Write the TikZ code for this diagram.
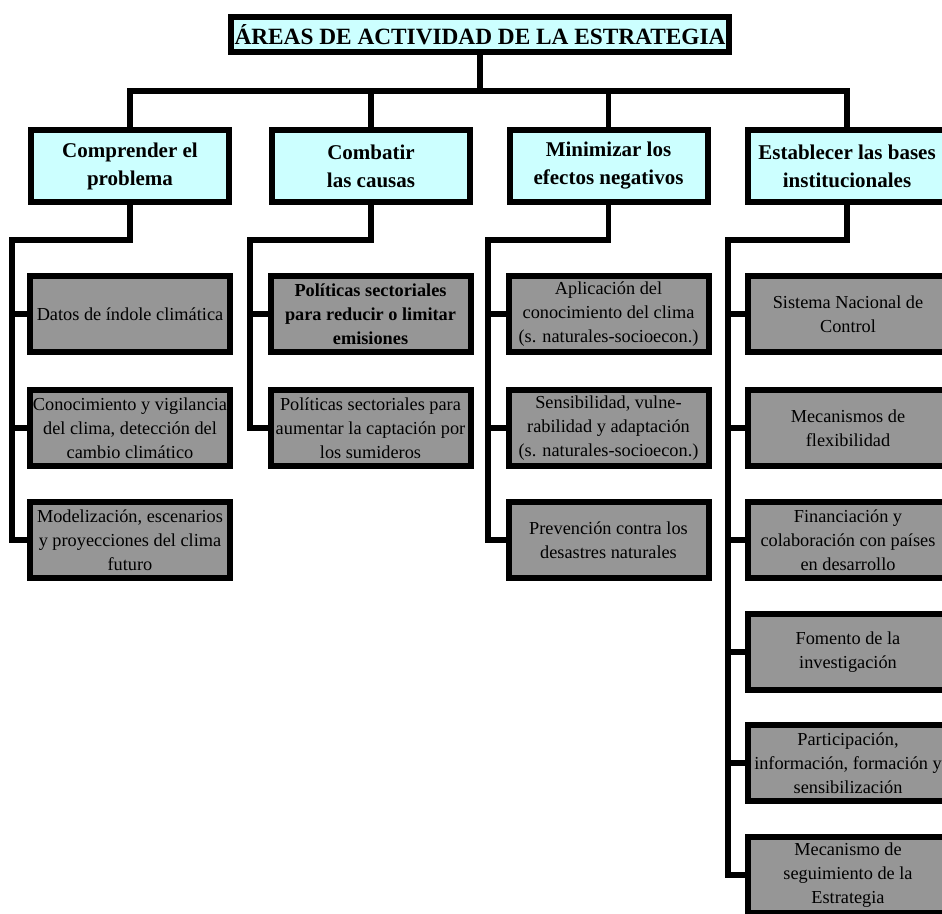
\documentclass[tikz,border=0pt]{standalone}
\usepackage{fontspec}
\setmainfont{Liberation Serif}
\usetikzlibrary{calc}

\definecolor{headcyan}{RGB}{204,255,255}
\definecolor{itemgray}{RGB}{150,150,150}

\tikzset{
  conn/.style={line width=5.5pt},
  titlebox/.style={draw, line width=6pt, fill=headcyan, minimum width=498pt, minimum height=35pt,
    inner sep=0pt, font=\fontsize{23.3}{28}\selectfont\bfseries},
  headbox/.style={draw, line width=6pt, fill=headcyan, minimum width=198pt, minimum height=72pt,
    inner sep=0pt, align=center, font=\fontsize{21}{28}\selectfont\bfseries},
  itembox/.style={draw, line width=6pt, fill=itemgray, minimum width=200pt, minimum height=76pt,
    inner sep=0pt, align=center, font=\fontsize{18.3}{24}\selectfont},
}

\begin{document}
\begin{tikzpicture}[x=1pt, y=-1pt]
  \useasboundingbox (0,0) rectangle (942,913);

  % title and the four areas
  \node[titlebox] (title) at (480,34.5) {ÁREAS DE ACTIVIDAD DE LA ESTRATEGIA};
  \node[headbox] (h1) at (130,166) {Comprender el\\problema};
  \node[headbox] (h2) at (371,166) {Combatir\\las causas};
  \node[headbox] (h3) at (608.5,166) {Minimizar los\\efectos negativos};
  \node[headbox] (h4) at (847,166) {Establecer las bases\\institucionales};

  % items of each area
  \node[itembox] (c11) at (130,314) {Datos de índole climática};
  \node[itembox] (c12) at (130,428) {Conocimiento y vigilancia\\del clima, detección del\\cambio climático};
  \node[itembox] (c13) at (130,540) {Modelización, escenarios\\y proyecciones del clima\\futuro};

  \node[itembox, font=\fontsize{18.3}{24}\selectfont\bfseries] (c21) at (370.5,314) {Políticas sectoriales\\para reducir o limitar\\emisiones};
  \node[itembox] (c22) at (370.5,428) {Políticas sectoriales para\\aumentar la captación por\\los sumideros};

  \node[itembox] (c31) at (608.5,314) {Aplicación del\\conocimiento del clima\\(s. naturales-socioecon.)};
  \node[itembox] (c32) at (608.5,428) {Sensibilidad, vulne-\\rabilidad y adaptación\\(s. naturales-socioecon.)};
  \node[itembox] (c33) at (608.5,540) {Prevención contra los\\desastres naturales};

  \node[itembox] (c41) at (848,314) {Sistema Nacional de\\Control};
  \node[itembox] (c42) at (848,428) {Mecanismos de\\flexibilidad};
  \node[itembox] (c43) at (848,540) {Financiación y\\colaboración con países\\en desarrollo};
  \node[itembox] (c44) at (848,652) {Fomento de la\\investigación};
  \node[itembox] (c45) at (848,763) {Participación,\\información, formación y\\sensibilización};
  \node[itembox] (c46) at (848,875) {Mecanismo de\\seguimiento de la\\Estrategia};

  % trunk and bar
  \coordinate (bar) at (480,91);
  \draw[conn] (title.south) -- (bar);
  \draw[conn] (h1.north) |- (bar);
  \draw[conn] (h4.north) |- (bar);
  \draw[conn] (h2.north) -- (h2.north |- bar);
  \draw[conn] (h3.north) -- (h3.north |- bar);

  % spines
  \coordinate (s1) at (12,240);
  \coordinate (s2) at (250,240);
  \coordinate (s3) at (488,240);
  \coordinate (s4) at (728,240);
  \draw[conn] (h1.south) |- (s1) -- (s1 |- c13.west) -- (c13.west);
  \draw[conn] (h2.south) |- (s2) -- (s2 |- c22.west) -- (c22.west);
  \draw[conn] (h3.south) |- (s3) -- (s3 |- c33.west) -- (c33.west);
  \draw[conn] (h4.south) |- (s4) -- (s4 |- c46.west) -- (c46.west);

  % stubs
  \foreach \c/\s in {c11/s1, c12/s1, c21/s2, c31/s3, c32/s3,
                     c41/s4, c42/s4, c43/s4, c44/s4, c45/s4}
    \draw[conn] (\s |- \c.west) -- (\c.west);
\end{tikzpicture}
\end{document}
